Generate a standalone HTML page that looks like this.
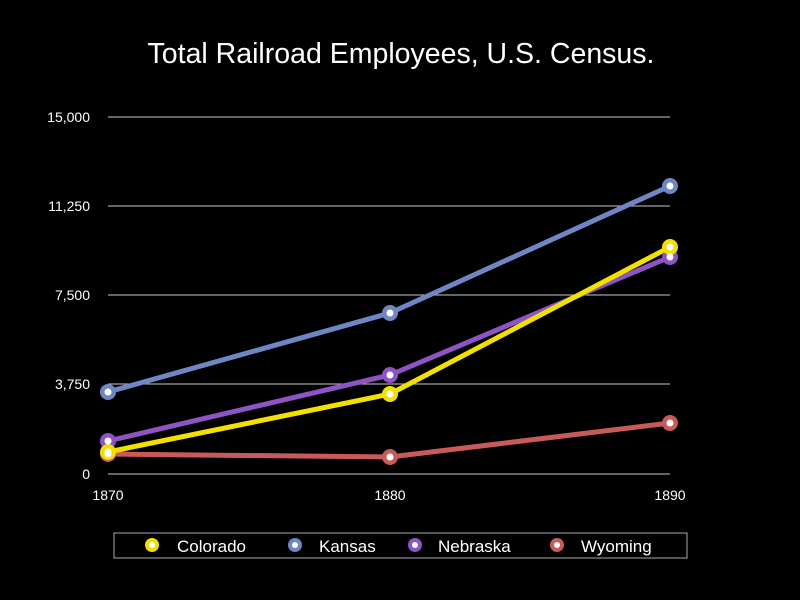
<!DOCTYPE html>
<html><head><style>body{margin:0;background:#000}</style></head><body>
<svg width="800" height="600" xmlns="http://www.w3.org/2000/svg" style="display:block">
<rect width="800" height="600" fill="#000"/>
<text x="401" y="63" text-anchor="middle" font-family="Liberation Sans, sans-serif" font-size="28.5" fill="#fff">Total Railroad Employees, U.S. Census.</text>
<g stroke="#c8c8c8" stroke-width="1">
<line x1="108" y1="117" x2="670" y2="117"/><line x1="108" y1="206" x2="670" y2="206"/>
<line x1="108" y1="295" x2="670" y2="295"/><line x1="108" y1="384" x2="670" y2="384"/>
<line x1="108" y1="474" x2="670" y2="474"/>
</g>
<g font-family="Liberation Sans, sans-serif" font-size="14" fill="#fff" text-anchor="end">
<text x="90" y="122">15,000</text><text x="90" y="211">11,250</text><text x="90" y="300">7,500</text><text x="90" y="389">3,750</text><text x="90" y="479">0</text>
</g>
<g font-family="Liberation Sans, sans-serif" font-size="14" fill="#fff" text-anchor="middle">
<text x="108" y="500">1870</text><text x="390" y="500">1880</text><text x="670" y="500">1890</text>
</g>
<g fill="none" stroke-width="5" stroke-linejoin="round">
<polyline points="108,454 390,457 670,423" stroke="#c85a5a"/>
<polyline points="108,441 390,375 670,257" stroke="#8e54c4"/>
<polyline points="108,452 390,394 670,247" stroke="#f2e000"/>
<polyline points="108,392 390,313 670,186" stroke="#6f86c4"/>
</g>
<g>
<g fill="#c85a5a"><circle cx="108" cy="454" r="8"/><circle cx="390" cy="457" r="8"/><circle cx="670" cy="423" r="8"/></g>
<g fill="#8e54c4"><circle cx="108" cy="441" r="8"/><circle cx="390" cy="375" r="8"/><circle cx="670" cy="257" r="8"/></g>
<g fill="#f2e000"><circle cx="108" cy="452" r="8"/><circle cx="390" cy="394" r="8"/><circle cx="670" cy="247" r="8"/></g>
<g fill="#6f86c4"><circle cx="108" cy="392" r="8"/><circle cx="390" cy="313" r="8"/><circle cx="670" cy="186" r="8"/></g>
<g fill="#fff">
<circle cx="108" cy="454" r="3.5"/><circle cx="390" cy="457" r="3.5"/><circle cx="670" cy="423" r="3.5"/>
<circle cx="108" cy="441" r="3.5"/><circle cx="390" cy="375" r="3.5"/><circle cx="670" cy="257" r="3.5"/>
<circle cx="108" cy="452" r="3.5"/><circle cx="390" cy="394" r="3.5"/><circle cx="670" cy="247" r="3.5"/>
<circle cx="108" cy="392" r="3.5"/><circle cx="390" cy="313" r="3.5"/><circle cx="670" cy="186" r="3.5"/>
</g></g>
<rect x="114" y="533" width="573" height="25" fill="none" stroke="#aaa" stroke-width="1"/>
<g>
<circle cx="152" cy="545" r="7" fill="#f2e000"/><circle cx="152" cy="545" r="3" fill="#fff"/>
<circle cx="295" cy="545" r="7" fill="#6f86c4"/><circle cx="295" cy="545" r="3" fill="#fff"/>
<circle cx="415" cy="545" r="7" fill="#8e54c4"/><circle cx="415" cy="545" r="3" fill="#fff"/>
<circle cx="557" cy="545" r="7" fill="#c85a5a"/><circle cx="557" cy="545" r="3" fill="#fff"/>
</g>
<g font-family="Liberation Sans, sans-serif" font-size="17" fill="#fff">
<text x="177" y="552">Colorado</text><text x="319" y="552">Kansas</text><text x="438" y="552">Nebraska</text><text x="581" y="552">Wyoming</text>
</g>
</svg>
</body></html>
